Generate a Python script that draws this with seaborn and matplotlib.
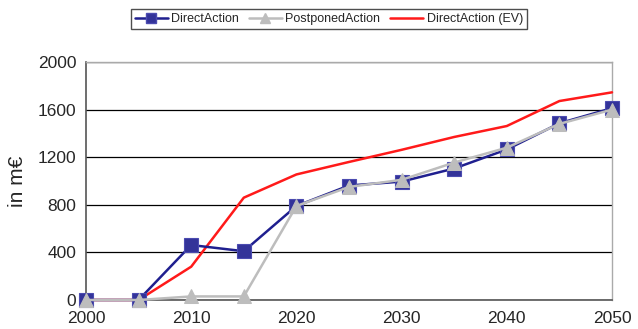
import matplotlib
matplotlib.use("Agg")
import matplotlib.pyplot as plt
from matplotlib.lines import Line2D
import seaborn as sns
import pandas as pd

years = [2000, 2005, 2010, 2015, 2020, 2025, 2030, 2035, 2040, 2045, 2050]
direct_action = [0, 0, 462, 410, 790, 962, 995, 1105, 1265, 1485, 1612]
postponed_action = [0, 0, 30, 30, 790, 950, 1010, 1155, 1280, 1480, 1600]
direct_action_ev = [0, 0, 280, 860, 1055, 1160, 1262, 1370, 1462, 1672, 1745]

series_names = ["DirectAction", "PostponedAction", "DirectAction (EV)"]

df = pd.concat([
    pd.DataFrame({"year": years, "value": direct_action, "scenario": series_names[0]}),
    pd.DataFrame({"year": years, "value": postponed_action, "scenario": series_names[1]}),
    pd.DataFrame({"year": years, "value": direct_action_ev, "scenario": series_names[2]}),
])

sns.set_style("white")
plt.rcParams["font.family"] = ["Liberation Sans", "DejaVu Sans"]

fig = plt.figure(figsize=(6.38, 3.29), dpi=100)
ax = fig.add_axes([86 / 638, 1 - 300 / 329, (612 - 86) / 638, (300 - 62) / 329])

ax.grid(axis="y", color="black", linewidth=0.9, zorder=0)

navy = "#1f1f8f"
grey = "#bdbdbd"
red = "#ff1a1a"
palette = {series_names[0]: navy, series_names[1]: grey, series_names[2]: red}

sns.lineplot(data=df[df.scenario == series_names[2]], x="year", y="value", hue="scenario",
             palette=palette, linewidth=1.8, ax=ax, legend=False, zorder=3)
sns.lineplot(data=df[df.scenario == series_names[0]], x="year", y="value", hue="scenario",
             palette=palette, linewidth=1.8, marker="s", markersize=10.5,
             markerfacecolor="#333399", markeredgecolor="#4b4bb0", markeredgewidth=0.8,
             ax=ax, legend=False, zorder=4)
sns.lineplot(data=df[df.scenario == series_names[1]], x="year", y="value", hue="scenario",
             palette=palette, linewidth=1.8, marker="^", markersize=9.5,
             markerfacecolor=grey, markeredgecolor=grey,
             ax=ax, legend=False, zorder=5)
for line in ax.get_lines():
    line.set_clip_on(False)

ax.set_xlim(2000, 2050)
ax.set_ylim(0, 2000)
ax.set_xticks(range(2000, 2051, 5))
ax.set_xticklabels([str(y) if y % 10 == 0 else "" for y in range(2000, 2051, 5)], fontsize=12.5)
ax.set_yticks(range(0, 2001, 400))
ax.set_yticklabels([str(v) for v in range(0, 2001, 400)], fontsize=12.5)
ax.tick_params(axis="x", direction="out", length=5, width=0.9, color="#555555", pad=3)
ax.tick_params(axis="y", direction="out", length=4, width=0.9, color="#555555", pad=3)
ax.set_xlabel("")
ax.set_ylabel("in m€", fontsize=15, labelpad=8)

for side in ["left", "bottom"]:
    ax.spines[side].set_color("#555555")
    ax.spines[side].set_linewidth(1.2)
for side in ["top", "right"]:
    ax.spines[side].set_visible(True)
    ax.spines[side].set_color("#aaaaaa")
    ax.spines[side].set_linewidth(1.0)

handles = [
    Line2D([], [], color=navy, linewidth=1.8, marker="s", markersize=7,
           markerfacecolor="#333399", markeredgecolor="#4b4bb0"),
    Line2D([], [], color=grey, linewidth=1.8, marker="^", markersize=6.5,
           markerfacecolor=grey, markeredgecolor=grey),
    Line2D([], [], color=red, linewidth=1.8),
]
leg = fig.legend(handles, series_names, loc="center", bbox_to_anchor=(329 / 638, 1 - 19 / 329),
                 ncol=3, frameon=True, fancybox=False, fontsize=9, handlelength=2.6,
                 columnspacing=0.8, handletextpad=0.3, borderpad=0.35, borderaxespad=0)
leg.get_frame().set_edgecolor("#222222")
leg.get_frame().set_linewidth(1.0)

fig.savefig("out.png", dpi=100)
